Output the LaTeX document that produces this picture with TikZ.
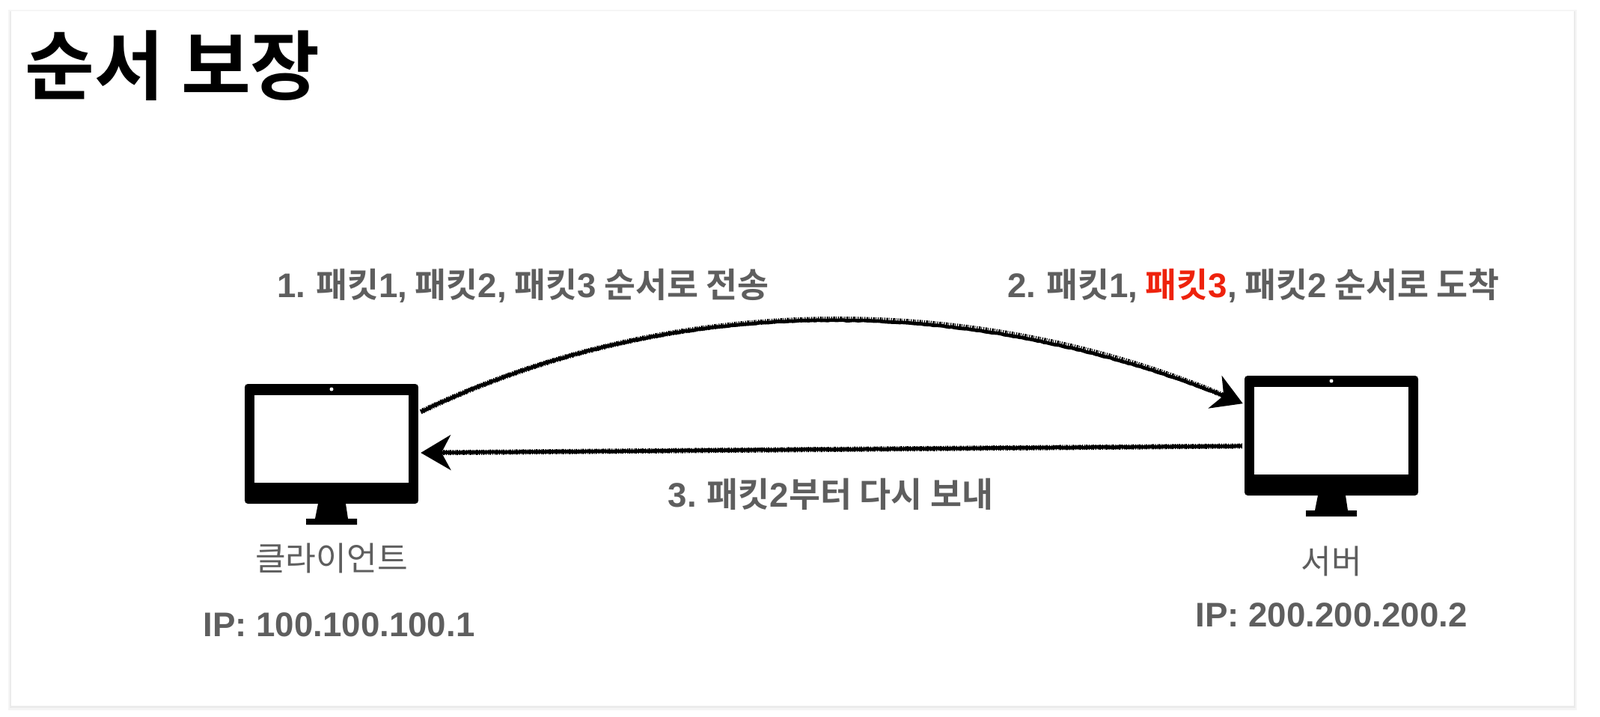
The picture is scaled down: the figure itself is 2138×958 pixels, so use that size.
\documentclass[tikz,border=0pt]{standalone}
\usepackage{fontspec}
\setmainfont{Noto Sans CJK KR}
\newfontfamily\krbold{Noto Sans CJK KR Bold}
\newfontfamily\latbold{Liberation Sans}
\newcommand{\lb}[1]{{\latbold\bfseries #1}}
\usetikzlibrary{arrows.meta,decorations.pathmorphing}
\colorlet{textcol}{black!63}
\definecolor{redcol}{HTML}{EE220C}
\tikzset{
  boldlabel/.style={font=\krbold\fontsize{33}{38}\selectfont, text=textcol, inner sep=0pt},
  hostlabel/.style={font=\fontsize{32}{38}\selectfont, text=textcol, inner sep=0pt},
  monitor/.style={fill=black, rounded corners=3pt, minimum width=167bp, minimum height=115.2bp, inner sep=0pt},
  sketch/.style={line width=3.4pt, decorate, decoration={random steps, segment length=3pt, amplitude=0.35pt, post length=8pt},
    -{Stealth[length=29pt, width=34pt, inset=9pt]}},
  sketchedge/.style={line width=5pt, shorten >=20pt, dash pattern=on 0.9pt off 1.1pt on 1.8pt off 0.7pt on 0.6pt off 1.3pt},
}
\begin{document}
\begin{tikzpicture}[x=1bp, y=-1bp, scale=0.72]

  % Card with a faint shadow.
  \useasboundingbox (0,0) rectangle (2138,958);
  \fill[white] (0,0) rectangle (2138,958);
  \fill[black!4] (11,13) rectangle (2107,949);
  \fill[black!8] (13,15) rectangle (2105,946);
  \fill[white] (15,15) rectangle (2103,943);

  % Title.
  \node[font=\krbold\fontsize{73}{78}\selectfont, inner sep=0pt, anchor=west] (title) at (33,88) {순서 보장};

  % Monitors.
  \foreach \hostname/\dx/\dy in {client/0/0, server/1336/-11} {
    \begin{scope}[shift={(\dx,\dy)}]
      \node[monitor] (\hostname) at (443,593) {};
      \fill[white] (340,528) rectangle (546,645);
      \fill[white] (443,520) circle (2.5);
      \fill (425,673) -- (462,673) -- (465,693) -- (477,693) -- (477,701)
        -- (409,701) -- (409,693) -- (421,693) -- cycle;
    \end{scope}
  }

  % Arrow ends.
  \coordinate (sendstart) at ([xshift=3pt,yshift=43pt]client.east);
  \coordinate (sendend) at ([xshift=-2pt,yshift=43pt]server.west);
  \coordinate (resendstart) at ([xshift=-3pt,yshift=-14pt]server.west);
  \coordinate (resendend) at ([xshift=3pt,yshift=-12pt]client.east);

  % Sketchy arrows.
  \draw[sketchedge] (sendstart) .. controls (900,389) and (1300,389) .. (sendend);
  \draw[sketchedge] (resendstart) -- (resendend);
  \draw[sketch] (sendstart) .. controls (900,389) and (1300,389) .. (sendend);
  \draw[sketch] (resendstart) -- (resendend);

  % Labels.
  \node[boldlabel] (step1) at (699,382) {\lb{1.} 패킷\lb{1,} 패킷\lb{2,} 패킷\lb{3} 순서로 전송};
  \node[boldlabel] (step2) at (1675,382) {\lb{2.} 패킷\lb{1,} \textcolor{redcol}{패킷\lb{3}}\lb{,} 패킷\lb{2} 순서로 도착};
  \node[boldlabel] (step3) at (1110,660) {\lb{3.} 패킷\lb{2}부터 다시 보내};
  \node[hostlabel] (clientname) at (443,746) {클라이언트};
  \node[hostlabel] (servername) at (1779,750) {서버};
  \node[boldlabel] (clientip) at (453,835) {\lb{IP: 100.100.100.1}};
  \node[boldlabel] (serverip) at (1779,822) {\lb{IP: 200.200.200.2}};

\end{tikzpicture}
\end{document}
